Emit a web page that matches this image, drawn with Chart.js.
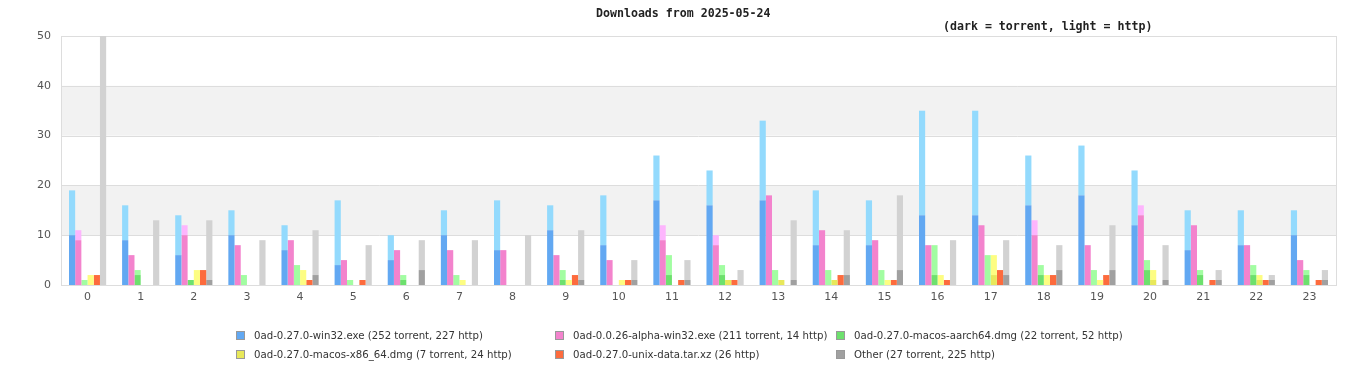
<!DOCTYPE html>
<html>
<head>
<meta charset="utf-8">
<script src="https://cdn.jsdelivr.net/npm/chart.js@4"></script>
<style>
  html, body { margin: 0; padding: 0; background: #fff; }
  #wrap { position: relative; width: 1366px; height: 380px; overflow: hidden; }
  #box { position: absolute; left: 0; top: 0; width: 1366px; height: 380px; }
  .ttl { position: absolute; font-family: "DejaVu Sans Mono", monospace; font-weight: bold; font-size: 11.6px; color: #222; white-space: nowrap; }
  #legend { position: absolute; left: 236px; top: 328px; display: grid; grid-template-columns: 319px 281px auto; row-gap: 5px;
            font-family: "DejaVu Sans Condensed", "DejaVu Sans", sans-serif; font-size: 11.3px; color: #333; }
  .li { display: flex; align-items: center; white-space: nowrap; height: 14px; }
  .sw { width: 7px; height: 7px; border: 1px solid #999; margin-right: 9px; box-sizing: content-box; flex: none; }
</style>
</head>
<body>
<div id="wrap">
  <div id="box"><canvas id="c"></canvas></div>
  <div class="ttl" id="t1" style="left:596px; top:6px;">Downloads from 2025-05-24</div>
  <div class="ttl" id="t2" style="left:943px; top:19px;">(dark = torrent, light = http)</div>
  <div id="legend"></div>
</div>
<script>
const hours = ["0","1","2","3","4","5","6","7","8","9","10","11","12","13","14","15","16","17","18","19","20","21","22","23"];
const fileNames = ["0ad-0.27.0-win32.exe","0ad-0.0.26-alpha-win32.exe","0ad-0.27.0-macos-aarch64.dmg","0ad-0.27.0-macos-x86_64.dmg","0ad-0.27.0-unix-data.tar.xz","Other"];
const yTicks = [0,10,20,30,40,50];

const win32Torrent = [10,9,6,10,7,4,5,10,7,11,8,17,16,17,8,8,14,14,16,18,12,7,8,10];
const win32Http    = [9,7,8,5,5,13,5,5,10,5,10,9,7,16,11,9,21,21,10,10,11,8,7,5];
const alphaTorrent = [9,6,10,8,9,5,7,7,7,6,5,9,8,18,11,9,8,12,10,8,14,12,8,5];
const alphaHttp    = [2,0,2,0,0,0,0,0,0,0,0,3,2,0,0,0,0,0,3,0,2,0,0,0];
const aarchTorrent = [0,2,1,0,0,0,1,0,0,1,0,2,2,0,0,0,2,0,2,0,3,2,2,2];
const aarchHttp    = [1,1,0,2,4,1,1,2,0,2,0,4,2,3,3,3,6,6,2,3,2,1,2,1];
const x86Torrent   = [0,0,0,0,0,0,0,0,0,0,0,0,1,1,1,0,0,2,0,0,1,0,1,0];
const x86Http      = [2,0,3,0,3,0,0,1,0,1,1,0,0,0,0,1,2,4,2,1,2,0,1,0];
const unixTorrent  = [0,0,0,0,0,0,0,0,0,0,0,0,0,0,0,0,0,0,0,0,0,0,0,0];
const unixHttp     = [2,0,3,0,1,1,0,0,0,2,1,1,1,0,2,1,1,3,2,2,0,1,1,1];
const otherTorrent = [0,0,1,0,2,0,3,0,0,1,1,1,0,1,2,3,0,2,3,3,1,1,1,1];
const otherHttp    = [50,13,12,9,9,8,6,9,10,10,4,4,3,12,9,15,9,7,5,9,7,2,1,2];

const torrentSeries = [win32Torrent, alphaTorrent, aarchTorrent, x86Torrent, unixTorrent, otherTorrent];
const httpSeries = [win32Http, alphaHttp, aarchHttp, x86Http, unixHttp, otherHttp];
const darkColors = ["#62a8f2","#f383cd","#6de06d","#e8e85a","#fd6b3d","#a0a0a0"];
const lightColors = ["#93dafd","#fdb5fd","#a2fda2","#fdfd82","#fd6b3d","#d2d2d2"];

const sum = a => a.reduce((s, v) => s + v, 0);

const datasets = [];
fileNames.forEach((name, i) => {
  datasets.push({ label: name + " torrent", data: torrentSeries[i], backgroundColor: darkColors[i], stack: "s" + i,
    categoryPercentage: 0.7, barPercentage: 1.0, borderWidth: 0 });
  datasets.push({ label: name + " http", data: httpSeries[i], backgroundColor: lightColors[i], stack: "s" + i,
    categoryPercentage: 0.7, barPercentage: 1.0, borderWidth: 0 });
});

// HTML legend built from the arrays
const legend = document.getElementById("legend");
fileNames.forEach((name, i) => {
  const t = sum(torrentSeries[i]), h = sum(httpSeries[i]);
  const parts = [];
  if (t > 0) parts.push(t + " torrent");
  if (h > 0) parts.push(h + " http");
  const div = document.createElement("div");
  div.className = "li";
  const sw = document.createElement("span");
  sw.className = "sw";
  sw.style.background = darkColors[i];
  div.appendChild(sw);
  div.appendChild(document.createTextNode(name + " (" + parts.join(", ") + ")"));
  legend.appendChild(div);
});

const bandPlugin = {
  id: "bands",
  beforeDatasetsDraw(chart) {
    const { ctx, chartArea: a, scales: { y } } = chart;
    ctx.save();
    ctx.fillStyle = "#f2f2f2";
    for (let v = 10; v < 50; v += 20) {
      const top = y.getPixelForValue(v + 10), bot = y.getPixelForValue(v);
      ctx.fillRect(a.left, top, a.right - a.left, bot - top);
    }
    ctx.strokeStyle = "#dddddd";
    ctx.lineWidth = 1;
    yTicks.forEach(v => {
      const py = Math.round(y.getPixelForValue(v)) + 0.5;
      ctx.beginPath(); ctx.moveTo(a.left, py); ctx.lineTo(a.right, py); ctx.stroke();
    });
    ctx.strokeRect(Math.round(a.left) + 0.5, Math.round(a.top) + 0.5, Math.round(a.right - a.left), Math.round(a.bottom - a.top));
    ctx.restore();
  }
};

new Chart(document.getElementById("c"), {
  type: "bar",
  data: { labels: hours, datasets },
  options: {
    responsive: true,
    maintainAspectRatio: false,
    animation: false,
    layout: { padding: { top: 36, right: 30, bottom: 75, left: 0 } },
    plugins: { legend: { display: false }, title: { display: false }, tooltip: { enabled: false } },
    scales: {
      x: {
        stacked: true,
        grid: { display: false, drawTicks: false },
        border: { display: false },
        ticks: { color: "#555", font: { family: "DejaVu Sans", size: 11 }, padding: 6, maxRotation: 0 },
        afterFit(s) { s.height = 20; }
      },
      y: {
        stacked: true,
        min: 0, max: 50,
        grid: { display: false, drawTicks: false },
        border: { display: false },
        ticks: { stepSize: 10, color: "#555", font: { family: "DejaVu Sans", size: 11 }, padding: 10,
                 callback: (v) => yTicks.includes(v) ? String(v) : null },
        afterFit(s) { s.width = 61; }
      }
    }
  },
  plugins: [bandPlugin]
});
</script>
</body>
</html>
